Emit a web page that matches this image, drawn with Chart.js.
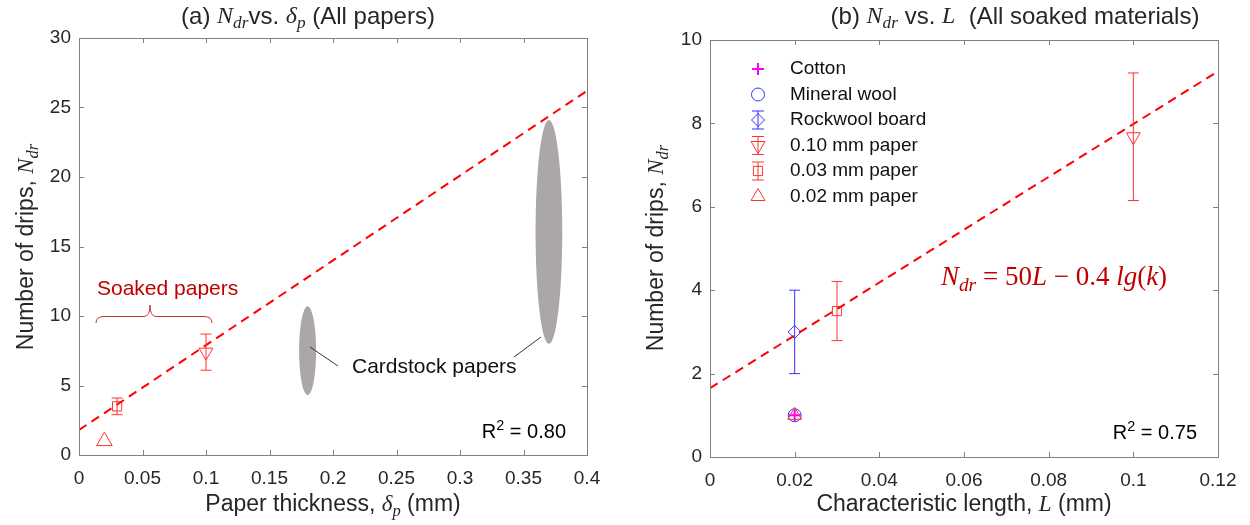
<!DOCTYPE html>
<html>
<head>
<meta charset="utf-8">
<script src="https://cdn.jsdelivr.net/npm/chart.js@4.4.1/dist/chart.umd.min.js"></script>
<style>
  body { margin: 0; background: #fff; }
  #wrap { position: relative; width: 1250px; height: 525px; }
  canvas { position: absolute; top: 0; }
</style>
</head>
<body>
<div id="wrap">
  <canvas id="chartA" width="620" height="525" style="left:0"></canvas>
  <canvas id="chartB" width="630" height="525" style="left:620px"></canvas>
</div>
<script>
// (a) N_dr vs paper thickness
const paperLabels = ['0.02 mm paper', '0.03 mm paper', '0.10 mm paper'];
const paperThickness = [0.02, 0.03, 0.10];
const paperDrips = [1, 3.5, 7.4];
const paperDripsErr = [0, 0.6, 1.3];
const cardstockThickness = [0.18, 0.37];
const cardstockThicknessSpread = [0.0067, 0.0105];
const cardstockDripsLow = [4.3, 8.0];
const cardstockDripsHigh = [10.7, 24.1];
const fitAx = [0, 0.4];
const fitAy = [1.8, 26.2];
const ticksAx = [0, 0.05, 0.1, 0.15, 0.2, 0.25, 0.3, 0.35, 0.4];
const ticksAy = [0, 5, 10, 15, 20, 25, 30];

// (b) N_dr vs characteristic length
const materials = ['Cotton', 'Mineral wool', 'Rockwool board', '0.10 mm paper', '0.03 mm paper', '0.02 mm paper'];
const charLength = [0.02, 0.02, 0.02, 0.10, 0.03, 0.02];
const materialDrips = [1, 1, 3, 7.68, 3.5, 1];
const materialDripsErr = [0, 0, 1, 1.53, 0.71, 0];
const fitBx = [0, 0.12];
const fitBy = [1.65, 9.25];
const ticksBx = [0, 0.02, 0.04, 0.06, 0.08, 0.1, 0.12];
const ticksBy = [0, 2, 4, 6, 8, 10];

const RED = '#ff3333', BLUE = '#3333ff', MAGENTA = '#ff00ff', DARKRED = '#c00000';
const TXT = '#262626', FRAME = '#7f7f7f';

function segFont(s, size) {
  const sz = (s.sub || s.sup) ? size * 0.72 : size;
  if (s.math) return (s.it ? 'italic ' : '') + sz + 'px "Liberation Serif"';
  return sz + 'px "Liberation Sans"';
}
function drawRich(ctx, segs, x, y, size, color, align) {
  ctx.save();
  ctx.fillStyle = color;
  ctx.textBaseline = 'middle';
  ctx.textAlign = 'left';
  let w = 0;
  segs.forEach(s => { ctx.font = segFont(s, size); w += ctx.measureText(s.t).width; });
  let cx = align === 'left' ? x : align === 'right' ? x - w : x - w / 2;
  segs.forEach(s => {
    ctx.font = segFont(s, size);
    const dy = s.sub ? size * 0.28 : s.sup ? -size * 0.32 : 0;
    ctx.fillText(s.t, cx, y + dy);
    cx += ctx.measureText(s.t).width;
  });
  ctx.restore();
}
const N = [{ t: 'N', math: 1, it: 1 }, { t: 'dr', math: 1, it: 1, sub: 1 }];
const yLabel = [{ t: 'Number of drips, ' }, ...N];

// frame with inward ticks on all four sides
const framePlugin = {
  id: 'frame',
  afterDatasetsDraw(chart) {
    const { ctx, chartArea: a, scales: { x, y } } = chart;
    ctx.save();
    ctx.strokeStyle = FRAME;
    ctx.lineWidth = 1;
    ctx.strokeRect(a.left + 0.5, a.top + 0.5, a.right - a.left, a.bottom - a.top);
    ctx.beginPath();
    x.ticks.forEach(t => {
      const px = Math.round(x.getPixelForValue(t.value)) + 0.5;
      ctx.moveTo(px, a.bottom); ctx.lineTo(px, a.bottom - 5);
      ctx.moveTo(px, a.top); ctx.lineTo(px, a.top + 5);
    });
    y.ticks.forEach(t => {
      const py = Math.round(y.getPixelForValue(t.value)) + 0.5;
      ctx.moveTo(a.left, py); ctx.lineTo(a.left + 5, py);
      ctx.moveTo(a.right, py); ctx.lineTo(a.right - 5, py);
    });
    ctx.stroke();
    ctx.restore();
  }
};

// vertical error bars from dataset.errs
const errorBarPlugin = {
  id: 'errbars',
  afterDatasetsDraw(chart) {
    const { ctx, scales: { x, y } } = chart;
    chart.data.datasets.forEach(ds => {
      if (!ds.errs) return;
      ds.data.forEach((p, i) => {
        const e = ds.errs[i];
        if (!e) return;
        const px = x.getPixelForValue(p.x);
        const y1 = y.getPixelForValue(p.y + e), y2 = y.getPixelForValue(p.y - e);
        ctx.save();
        ctx.strokeStyle = ds.borderColor;
        ctx.lineWidth = 1;
        ctx.beginPath();
        ctx.moveTo(px, y1); ctx.lineTo(px, y2);
        ctx.moveTo(px - 5.5, y1); ctx.lineTo(px + 5.5, y1);
        ctx.moveTo(px - 5.5, y2); ctx.lineTo(px + 5.5, y2);
        ctx.stroke();
        ctx.restore();
      });
    });
  }
};

function axisScale(ticks, min, max, size, isX) {
  return {
    type: 'linear', min, max,
    afterBuildTicks: s => { s.ticks = ticks.map(v => ({ value: v })); },
    afterFit: s => { if (isX) s.height = size; else s.width = size; },
    grid: { display: false, drawTicks: false },
    border: { display: false },
    ticks: { color: TXT, font: { family: 'Liberation Sans', size: 19 }, padding: isX ? 12 : 8,
      callback: v => String(v) }
  };
}

function pointSet(label, xs, ys, errs, style, color, radius, rotation) {
  return {
    type: 'scatter', label,
    data: xs.map((v, i) => ({ x: v, y: ys[i] })),
    errs,
    pointStyle: style, pointRotation: rotation || 0,
    pointRadius: radius, pointHoverRadius: radius,
    borderColor: color, backgroundColor: 'rgba(0,0,0,0)',
    pointBorderWidth: style === 'cross' ? 2 : 1
  };
}

function fitSet(xs, ys) {
  return {
    type: 'line', data: xs.map((v, i) => ({ x: v, y: ys[i] })),
    borderColor: '#ff0000', borderWidth: 2, borderDash: [9, 6],
    pointRadius: 0, fill: false, tension: 0
  };
}

// ---- chart (a)
const paperStyles = [['triangle', 9, 0], ['rect', 6.5, 0], ['triangle', 8, 180]];
const cardstockPlugin = {
  id: 'cardstock',
  beforeDatasetsDraw(chart) {
    const { ctx, scales: { x, y } } = chart;
    ctx.save();
    ctx.fillStyle = '#aba7a7';
    cardstockThickness.forEach((t, i) => {
      const cx = x.getPixelForValue(t);
      const rx = x.getPixelForValue(t + cardstockThicknessSpread[i]) - cx;
      const yt = y.getPixelForValue(cardstockDripsHigh[i]), yb = y.getPixelForValue(cardstockDripsLow[i]);
      ctx.beginPath();
      ctx.ellipse(cx, (yt + yb) / 2, rx, (yb - yt) / 2, 0, 0, Math.PI * 2);
      ctx.fill();
    });
    ctx.restore();
  },
  afterDraw(chart) {
    const ctx = chart.ctx;
    drawRich(ctx, [{ t: '(a) ' }, ...N, { t: 'vs. ' }, { t: 'δ', math: 1, it: 1 }, { t: 'p', math: 1, it: 1, sub: 1 }, { t: ' (All papers)' }], 308, 17, 24, TXT);
    drawRich(ctx, [{ t: 'Paper thickness, ' }, { t: 'δ', math: 1, it: 1 }, { t: 'p', math: 1, it: 1, sub: 1 }, { t: ' (mm)' }], 333, 505, 23, TXT);
    ctx.save();
    ctx.translate(27, 247);
    ctx.rotate(-Math.PI / 2);
    drawRich(ctx, yLabel, 0, 0, 23, TXT);
    ctx.restore();
    drawRich(ctx, [{ t: 'R' }, { t: '2', sup: 1 }, { t: ' = 0.80' }], 566, 432, 20, '#000', 'right');
    drawRich(ctx, [{ t: 'Cardstock papers' }], 352, 367, 21, '#111', 'left');
    drawRich(ctx, [{ t: 'Soaked papers' }], 97, 289, 21, DARKRED, 'left');
    ctx.save();
    ctx.strokeStyle = '#333';
    ctx.lineWidth = 1;
    ctx.beginPath();
    ctx.moveTo(310, 347); ctx.lineTo(338, 366);
    ctx.moveTo(541, 337); ctx.lineTo(514, 357);
    ctx.stroke();
    // curly brace
    ctx.strokeStyle = '#c83232';
    ctx.beginPath();
    ctx.moveTo(96, 323);
    ctx.quadraticCurveTo(96, 316.5, 104, 316.5);
    ctx.lineTo(144, 316.5);
    ctx.quadraticCurveTo(150, 316.5, 150, 305);
    ctx.quadraticCurveTo(150, 316.5, 156, 316.5);
    ctx.lineTo(204, 316.5);
    ctx.quadraticCurveTo(212, 316.5, 212, 323);
    ctx.stroke();
    ctx.restore();
  }
};

new Chart(document.getElementById('chartA'), {
  type: 'scatter',
  data: {
    datasets: [
      fitSet(fitAx, fitAy),
      ...paperLabels.map((l, i) => pointSet(l, [paperThickness[i]], [paperDrips[i]], [paperDripsErr[i]],
        paperStyles[i][0], RED, paperStyles[i][1], paperStyles[i][2]))
    ]
  },
  options: {
    responsive: false, animation: false, devicePixelRatio: 1,
    layout: { padding: { left: 0, right: 33, top: 38, bottom: 0 } },
    plugins: { legend: { display: false }, tooltip: { enabled: false } },
    scales: { x: axisScale(ticksAx, 0, 0.4, 70, true), y: axisScale(ticksAy, 0, 30, 79, false) }
  },
  plugins: [cardstockPlugin, errorBarPlugin, framePlugin]
});

// ---- chart (b)
const matStyles = [['cross', 6, 0, MAGENTA], ['circle', 6.5, 0, BLUE], ['rectRot', 6.5, 0, BLUE],
  ['triangle', 8, 180, RED], ['rect', 6.5, 0, RED], ['triangle', 8, 0, RED]];
const drawOrder = [5, 4, 3, 2, 1, 0];

const legendPlugin = {
  id: 'legendB',
  afterDraw(chart) {
    const ctx = chart.ctx;
    materials.forEach((m, i) => {
      const st = matStyles[i];
      const lx = 138, ly = 69 + i * 25.5;
      ctx.save();
      ctx.strokeStyle = st[3];
      ctx.fillStyle = 'rgba(0,0,0,0)';
      ctx.lineWidth = st[0] === 'cross' ? 2 : 1;
      Chart.helpers.drawPoint(ctx, { pointStyle: st[0], rotation: st[2], radius: st[1], borderWidth: ctx.lineWidth }, lx, ly);
      if (materialDripsErr[i]) {
        ctx.lineWidth = 1;
        ctx.beginPath();
        ctx.moveTo(lx, ly - 9); ctx.lineTo(lx, ly + 9);
        ctx.moveTo(lx - 6, ly - 9); ctx.lineTo(lx + 6, ly - 9);
        ctx.moveTo(lx - 6, ly + 9); ctx.lineTo(lx + 6, ly + 9);
        ctx.stroke();
      }
      ctx.restore();
      drawRich(ctx, [{ t: m }], 170, ly, 19, '#111', 'left');
    });
    drawRich(ctx, [{ t: '(b) ' }, ...N, { t: ' vs. ' }, { t: 'L', math: 1, it: 1 }, { t: '  (All soaked materials)' }], 395, 17, 24, TXT);
    drawRich(ctx, [{ t: 'Characteristic length, ' }, { t: 'L', math: 1, it: 1 }, { t: ' (mm)' }], 344, 505, 23, TXT);
    ctx.save();
    ctx.translate(37, 248);
    ctx.rotate(-Math.PI / 2);
    drawRich(ctx, yLabel, 0, 0, 23, TXT);
    ctx.restore();
    drawRich(ctx, [{ t: 'R' }, { t: '2', sup: 1 }, { t: ' = 0.75' }], 577, 433, 20, '#000', 'right');
    drawRich(ctx, [...N, { t: ' = 50', math: 1 }, { t: 'L', math: 1, it: 1 }, { t: ' − 0.4 ', math: 1 },
      { t: 'lg', math: 1, it: 1 }, { t: '(', math: 1 }, { t: 'k', math: 1, it: 1 }, { t: ')', math: 1 }],
      434, 278, 27, DARKRED);
  }
};

new Chart(document.getElementById('chartB'), {
  type: 'scatter',
  data: {
    datasets: [
      fitSet(fitBx, fitBy),
      ...drawOrder.map(i => pointSet(materials[i], [charLength[i]], [materialDrips[i]], [materialDripsErr[i]],
        matStyles[i][0], matStyles[i][3], matStyles[i][1], matStyles[i][2]))
    ]
  },
  options: {
    responsive: false, animation: false, devicePixelRatio: 1,
    layout: { padding: { left: 0, right: 32, top: 40, bottom: 0 } },
    plugins: { legend: { display: false }, tooltip: { enabled: false } },
    scales: { x: axisScale(ticksBx, 0, 0.12, 68, true), y: axisScale(ticksBy, 0, 10, 90, false) }
  },
  plugins: [errorBarPlugin, framePlugin, legendPlugin]
});
</script>
</body>
</html>
